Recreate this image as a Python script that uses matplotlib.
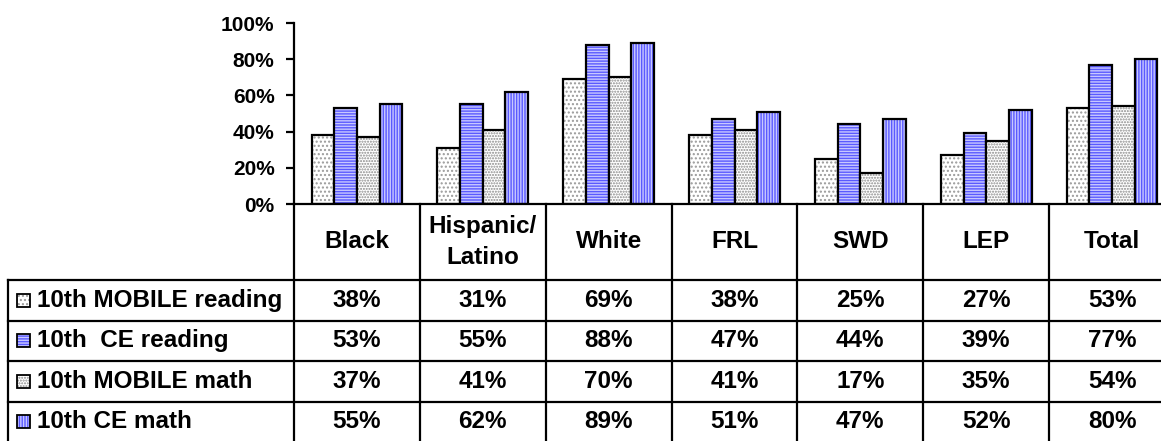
import numpy as np
import matplotlib
matplotlib.use("Agg")
from matplotlib import pyplot as plt
from matplotlib.patches import Rectangle

plt.rcParams['font.family'] = ['Liberation Sans', 'DejaVu Sans']
plt.rcParams['font.weight'] = 'bold'
plt.rcParams['hatch.linewidth'] = 1.0

# 数据
groups = ['Black', 'Hispanic/\nLatino', 'White', 'FRL', 'SWD', 'LEP', 'Total']
series = ['10th MOBILE reading', '10th  CE reading', '10th MOBILE math', '10th CE math']
mobile_reading = [38, 31, 69, 38, 25, 27, 53]
ce_reading = [53, 55, 88, 47, 44, 39, 77]
mobile_math = [37, 41, 70, 41, 17, 35, 54]
ce_math = [55, 62, 89, 51, 47, 52, 80]
values = [mobile_reading, ce_reading, mobile_math, ce_math]

# 样式：底色、纹理、纹理颜色
faces = ['white', '#5a5aff', 'white', '#5a5aff']
hatches = ['....', '------', '......', '||||||']
hatch_cols = ['#9a9a9a', '#c8c8ff', '#8a8a8a', '#c8c8ff']

W, H = 1161, 441
fig = plt.figure(figsize=(W / 100, H / 100), dpi=100)

x_left, x_right = 294, 1175   # 图区左右边界 (像素)
y0, y100 = 204, 23            # 0% 与 100% 的位置
ax = fig.add_axes([x_left / W, 1 - y0 / H, (x_right - x_left) / W, (y0 - y100) / H])

n = len(groups)
x = np.arange(n)
bw = 0.18
for i, vals in enumerate(values):
    pos = x + (i - 1.5) * bw
    v = np.array(vals) / 100
    ax.bar(pos, v, bw, color=faces[i], hatch=hatches[i], edgecolor=hatch_cols[i], linewidth=0)
    ax.bar(pos, v, bw, fill=False, edgecolor='black', linewidth=1.6)

ax.set_xlim(-0.5, n - 0.5)
ax.set_ylim(0, 1)
ticks = np.arange(0, 1.01, 0.2)
ax.set_yticks(ticks)
ax.set_yticklabels([f'{int(round(t * 100))}%' for t in ticks], fontsize=15, fontweight='bold')
ax.set_xticks([])
ax.tick_params(axis='y', length=6, width=1.6, pad=8)
for s in ['top', 'right']:
    ax.spines[s].set_visible(False)
ax.spines['left'].set_linewidth(1.6)
ax.spines['bottom'].set_linewidth(1.6)

# 数据表
header_h = 76
row_h = 40.5
y_bottom = y0 + header_h + row_h * 4
tab = fig.add_axes([x_left / W, 1 - y_bottom / H, (x_right - x_left) / W, (y_bottom - y0) / H],
                   sharex=ax)
tab.set_ylim(y_bottom, y0)
tab.axis('off')
px = 1 / 126.0                 # 每像素对应的数据宽度
legend_left = -0.5 - (x_left - 8) * px
lw = 1.6
fs = 17.5

for k in range(n + 1):
    tab.plot([k - 0.5, k - 0.5], [y0, y_bottom], color='black', lw=lw, clip_on=False)
tab.plot([legend_left, legend_left], [y0 + header_h, y_bottom], color='black', lw=lw, clip_on=False)
for r in range(4):
    yy = y0 + header_h + r * row_h
    tab.plot([legend_left, n - 0.5], [yy, yy], color='black', lw=lw, clip_on=False)

for j, g in enumerate(groups):
    tab.text(j, y0 + header_h / 2, g, ha='center', va='center', fontsize=fs,
             fontweight='bold', linespacing=1.4)

for r, vals in enumerate(values):
    yc = y0 + header_h + (r + 0.5) * row_h
    for j, v in enumerate(vals):
        tab.text(j, yc, f'{v}%', ha='center', va='center', fontsize=fs, fontweight='bold')
    # 图例小方块
    sx = legend_left + 9 * px
    sw = 13 * px
    tab.add_patch(Rectangle((sx, yc - 6.5), sw, 13, facecolor=faces[r], hatch=hatches[r],
                            edgecolor=hatch_cols[r], linewidth=0, clip_on=False))
    tab.add_patch(Rectangle((sx, yc - 6.5), sw, 13, fill=False, edgecolor='black',
                            linewidth=1.3, clip_on=False))
    tab.text(legend_left + 29 * px, yc, series[r], ha='left', va='center', fontsize=fs,
             fontweight='bold')

fig.savefig('out.png', dpi=100)
